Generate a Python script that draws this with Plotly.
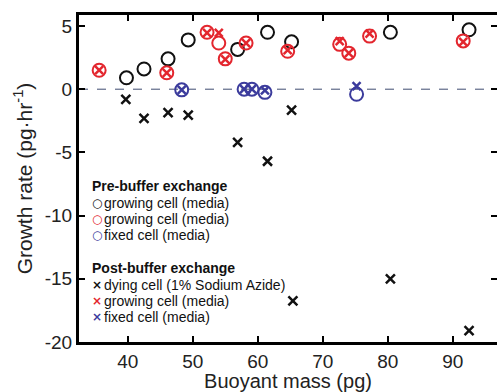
import plotly.graph_objects as go

# ---- data ----
pre_grow_black_mass = [39.8, 42.5, 46.2, 49.3, 56.9, 61.5, 65.2, 80.4, 92.5]
pre_grow_black_rate = [0.9, 1.6, 2.4, 3.9, 3.15, 4.5, 3.75, 4.5, 4.7]

pre_grow_red_mass = [35.6, 46.0, 52.2, 54.0, 55.0, 58.2, 64.6, 72.6, 74.0, 77.2, 91.6]
pre_grow_red_rate = [1.5, 1.3, 4.5, 3.65, 2.4, 3.65, 3.0, 3.55, 2.85, 4.2, 3.82]

pre_fixed_mass = [48.3, 57.9, 59.1, 61.1, 75.2]
pre_fixed_rate = [-0.05, 0.0, 0.0, -0.25, -0.4]

post_dying_mass = [39.7, 42.5, 46.2, 49.3, 56.9, 61.5, 65.2, 80.4, 65.4, 92.5]
post_dying_rate = [-0.8, -2.3, -1.85, -2.05, -4.2, -5.7, -1.65, -15.0, -16.75, -19.1]

post_grow_red_mass = [35.6, 46.0, 52.2, 54.0, 55.0, 58.2, 64.6, 72.6, 74.0, 77.2, 91.6]
post_grow_red_rate = [1.5, 1.3, 4.45, 4.45, 2.35, 3.65, 3.1, 3.8, 2.85, 4.4, 3.75]

post_fixed_mass = [48.3, 57.9, 59.1, 61.1, 75.2]
post_fixed_rate = [-0.05, 0.0, 0.0, -0.1, 0.25]

x_ticks = [40, 50, 60, 70, 80, 90]
y_ticks = [5, 0, -5, -10, -15, -20]

BLACK = "#111111"
RED = "#e3262e"
BLUE = "#3b3b9c"

W, H = 497, 392
ML, MR, MT, MB = 79, 0, 15, 50

fig = go.Figure()

def circles(xs, ys, color):
    fig.add_trace(go.Scatter(x=xs, y=ys, mode="markers", showlegend=False,
                             marker=dict(symbol="circle-open", size=13, color=color,
                                         line=dict(width=2, color=color))))

def crosses(xs, ys, color, size=8):
    fig.add_trace(go.Scatter(x=xs, y=ys, mode="markers", showlegend=False,
                             marker=dict(symbol="x-thin-open", size=size, color=color,
                                         line=dict(width=2.5, color=color))))

circles(pre_grow_black_mass, pre_grow_black_rate, BLACK)
circles(pre_grow_red_mass, pre_grow_red_rate, RED)
circles(pre_fixed_mass, pre_fixed_rate, BLUE)
crosses(post_dying_mass, post_dying_rate, BLACK, 9)
crosses(post_grow_red_mass, post_grow_red_rate, RED)
crosses(post_fixed_mass, post_fixed_rate, BLUE)

# dashed zero reference line
fig.add_shape(type="line", xref="paper", x0=0, x1=1, yref="y", y0=0, y1=0,
              line=dict(color="#3f4c70", width=1, dash="dash"), layer="below")

# ---- legend as text ----
plot_h = H - MT - MB
plot_w = W - ML - MR
def px_x(p):
    return (p - ML) / plot_w
def px_y(p):
    return (H - MB - p) / plot_h

FONT = "Liberation Sans, Arial, sans-serif"
headers = [("Pre-buffer exchange", 186), ("Post-buffer exchange", 268)]
for txt, yy in headers:
    fig.add_annotation(x=px_x(90), y=px_y(yy), xref="paper", yref="paper",
                       text="<b>" + txt + "</b>", showarrow=False, xanchor="left",
                       yanchor="middle", font=dict(family=FONT, size=14, color="#111"))

items = [
    ("○", BLACK, "growing cell (media)", 203),
    ("○", RED, "growing cell (media)", 219),
    ("○", BLUE, "fixed cell (media)", 235),
    ("×", BLACK, "dying cell (1% Sodium Azide)", 285),
    ("×", RED, "growing cell (media)", 301),
    ("×", BLUE, "fixed cell (media)", 317),
]
for glyph, col, txt, yy in items:
    fig.add_annotation(x=px_x(96.5), y=px_y(yy), xref="paper", yref="paper",
                       text="<b>" + glyph + "</b>", showarrow=False, xanchor="center",
                       yanchor="middle", font=dict(family="DejaVu Sans", size=12, color=col))
    fig.add_annotation(x=px_x(102), y=px_y(yy), xref="paper", yref="paper",
                       text=txt, showarrow=False, xanchor="left",
                       yanchor="middle", font=dict(family=FONT, size=14, color="#111"))

axis_common = dict(showline=True, linecolor="black", linewidth=3, mirror="ticks",
                   ticks="inside", ticklen=6, tickwidth=2, tickcolor="black",
                   showgrid=False, zeroline=False,
                   tickfont=dict(family=FONT, size=19, color="#222"))

fig.update_layout(
    width=W, height=H,
    margin=dict(l=ML, r=MR, t=MT, b=MB, autoexpand=False),
    paper_bgcolor="white", plot_bgcolor="white",
    showlegend=False,
    xaxis=dict(range=[32.5, 96.8], tickvals=x_ticks, ticktext=[str(v) for v in x_ticks],
               title=dict(text="Buoyant mass (pg)", font=dict(family=FONT, size=20, color="#222"),
                          standoff=0),
               automargin=False, **axis_common),
    yaxis=dict(range=[-20, 5.87], tickvals=y_ticks, ticktext=[str(v) for v in y_ticks],
               title=dict(text="Growth rate (pg·hr<sup>-1</sup>)",
                          font=dict(family=FONT, size=21, color="#222"), standoff=7),
               automargin=False, **axis_common),
)

fig.write_html("out.html", config={"displayModeBar": False},
               post_script="document.body.style.margin='0';document.body.style.padding='0';document.body.style.overflow='hidden';")
